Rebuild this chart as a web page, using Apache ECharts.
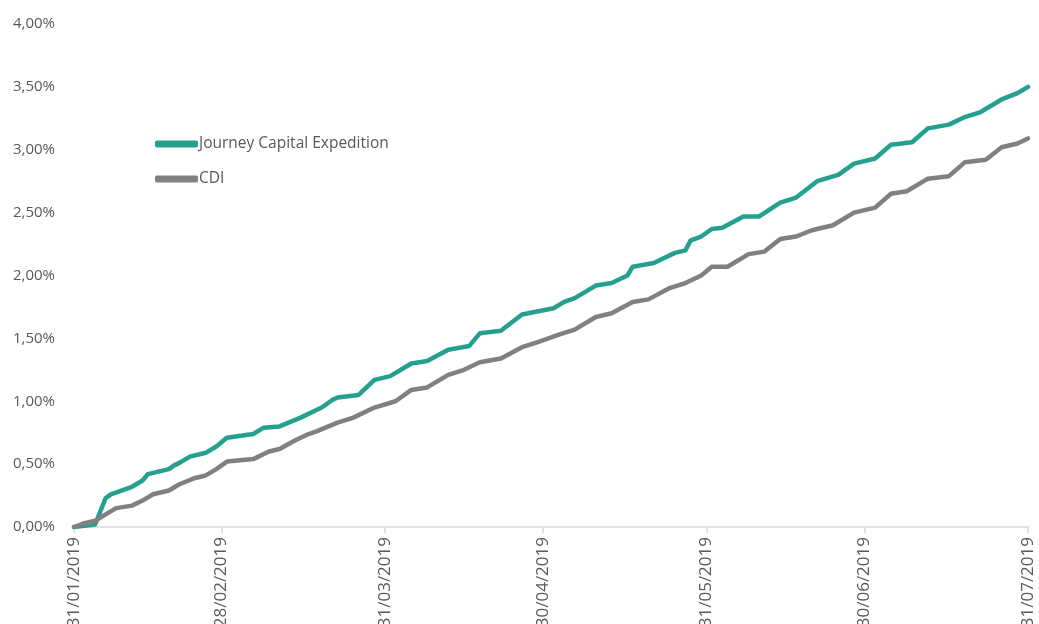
<!DOCTYPE html>
<html>
<head>
<meta charset="utf-8">
<script src="https://cdn.jsdelivr.net/npm/echarts@6/dist/echarts.min.js"></script>
<style>
  html, body { margin: 0; padding: 0; background: #fff; }
  #chart { width: 1039px; height: 624px; }
</style>
</head>
<body>
<div id="chart"></div>
<script>
// axis range and labelled ticks (month ends)
var startDate = '2019-01-31';
var endDate = '2019-07-31';
var monthEnds = ['31/01/2019', '28/02/2019', '31/03/2019', '30/04/2019', '31/05/2019', '30/06/2019', '31/07/2019'];
var yTicks = [0, 0.5, 1, 1.5, 2, 2.5, 3, 3.5, 4];

var seriesNames = ['Journey Capital Expedition', 'CDI'];

// cumulative return, %
var journeyDates = ['31/01/2019','02/02/2019','04/02/2019','06/02/2019','07/02/2019','09/02/2019','11/02/2019','13/02/2019','14/02/2019','18/02/2019','19/02/2019','20/02/2019','22/02/2019','25/02/2019','27/02/2019','01/03/2019','06/03/2019','08/03/2019','11/03/2019','15/03/2019','19/03/2019','21/03/2019','22/03/2019','26/03/2019','29/03/2019','01/04/2019','05/04/2019','08/04/2019','12/04/2019','16/04/2019','18/04/2019','22/04/2019','26/04/2019','02/05/2019','04/05/2019','06/05/2019','10/05/2019','13/05/2019','16/05/2019','17/05/2019','21/05/2019','25/05/2019','27/05/2019','28/05/2019','30/05/2019','01/06/2019','03/06/2019','07/06/2019','10/06/2019','14/06/2019','17/06/2019','21/06/2019','25/06/2019','28/06/2019','02/07/2019','05/07/2019','09/07/2019','12/07/2019','16/07/2019','19/07/2019','22/07/2019','26/07/2019','29/07/2019','31/07/2019'];
var journeyValues = [0.00,0.01,0.02,0.23,0.26,0.29,0.32,0.37,0.42,0.46,0.49,0.51,0.56,0.59,0.64,0.71,0.74,0.79,0.80,0.87,0.95,1.01,1.03,1.05,1.17,1.20,1.30,1.32,1.41,1.44,1.54,1.56,1.69,1.74,1.79,1.82,1.92,1.94,2.00,2.07,2.10,2.18,2.20,2.28,2.31,2.37,2.38,2.47,2.47,2.58,2.62,2.75,2.80,2.89,2.93,3.04,3.06,3.17,3.20,3.26,3.30,3.40,3.45,3.50];

var cdiDates = ['31/01/2019','02/02/2019','04/02/2019','06/02/2019','08/02/2019','11/02/2019','13/02/2019','15/02/2019','18/02/2019','20/02/2019','23/02/2019','25/02/2019','27/02/2019','01/03/2019','06/03/2019','09/03/2019','11/03/2019','14/03/2019','16/03/2019','18/03/2019','22/03/2019','25/03/2019','29/03/2019','02/04/2019','05/04/2019','08/04/2019','12/04/2019','15/04/2019','18/04/2019','22/04/2019','26/04/2019','29/04/2019','03/05/2019','06/05/2019','10/05/2019','13/05/2019','17/05/2019','20/05/2019','24/05/2019','27/05/2019','30/05/2019','01/06/2019','04/06/2019','08/06/2019','11/06/2019','14/06/2019','17/06/2019','20/06/2019','24/06/2019','28/06/2019','02/07/2019','05/07/2019','08/07/2019','12/07/2019','16/07/2019','19/07/2019','23/07/2019','26/07/2019','29/07/2019','31/07/2019'];
var cdiValues = [0.00,0.03,0.05,0.10,0.15,0.17,0.21,0.26,0.29,0.34,0.39,0.41,0.46,0.52,0.54,0.60,0.62,0.69,0.73,0.76,0.83,0.87,0.95,1.00,1.09,1.11,1.21,1.25,1.31,1.34,1.43,1.47,1.53,1.57,1.67,1.70,1.79,1.81,1.90,1.94,2.00,2.07,2.07,2.17,2.19,2.29,2.31,2.36,2.40,2.50,2.54,2.65,2.67,2.77,2.79,2.90,2.92,3.02,3.05,3.09];

var colors = ['#25a08e', '#808080'];

function fmtDate(d) {
  var dd = ('0' + d.getUTCDate()).slice(-2);
  var mm = ('0' + (d.getUTCMonth() + 1)).slice(-2);
  return dd + '/' + mm + '/' + d.getUTCFullYear();
}

// every calendar day on the axis
var categories = [];
for (var t = Date.parse(startDate); t <= Date.parse(endDate); t += 86400000) {
  categories.push(fmtDate(new Date(t)));
}

function pairs(dates, values) {
  return dates.map(function(d, i) { return [d, values[i]]; });
}

var isMonthEnd = function(idx, val) {
  return monthEnds.indexOf(val) >= 0;
};

var txtColor = '#595959';
var font = '"Open Sans", "DejaVu Sans", sans-serif';

var option = {
  backgroundColor: '#fff',
  animation: false,
  grid: { left: 74, right: 11, top: 24, bottom: 97, outerBoundsMode: 'none', containLabel: false },
  legend: {
    orient: 'vertical',
    left: 150,
    top: 129,
    itemWidth: 43,
    itemHeight: 7,
    itemGap: 15,
    icon: 'roundRect',
    data: seriesNames,
    textStyle: { color: txtColor, fontSize: 15.5, fontFamily: font, lineHeight: 20, padding: [0, 0, 0, -4] }
  },
  xAxis: {
    type: 'category',
    data: categories,
    boundaryGap: false,
    axisLine: { lineStyle: { color: '#d9d9d9', width: 1.5 } },
    axisTick: { show: true, interval: isMonthEnd, length: 6, lineStyle: { color: '#d9d9d9', width: 1.5 } },
    axisLabel: {
      interval: isMonthEnd,
      rotate: 90,
      margin: 10,
      color: txtColor,
      fontSize: 17,
      fontFamily: font
    },
    splitLine: { show: false }
  },
  yAxis: {
    type: 'value',
    min: yTicks[0],
    max: yTicks[yTicks.length - 1],
    interval: 0.5,
    axisLine: { show: false },
    axisTick: { show: false },
    splitLine: { show: false },
    axisLabel: {
      margin: 19,
      color: txtColor,
      fontSize: 15,
      fontFamily: font,
      formatter: function(v) { return v.toFixed(2).replace('.', ',') + '%'; }
    }
  },
  series: [
    {
      name: seriesNames[0],
      type: 'line',
      showSymbol: false,
      symbol: 'none',
      color: colors[0],
      lineStyle: { width: 4.5, color: colors[0], cap: 'round', join: 'round' },
      data: pairs(journeyDates, journeyValues)
    },
    {
      name: seriesNames[1],
      type: 'line',
      showSymbol: false,
      symbol: 'none',
      color: colors[1],
      lineStyle: { width: 4.5, color: colors[1], cap: 'round', join: 'round' },
      data: pairs(cdiDates, cdiValues)
    }
  ]
};

var myChart = echarts.init(document.getElementById('chart'));
myChart.setOption(option);
</script>
</body>
</html>
